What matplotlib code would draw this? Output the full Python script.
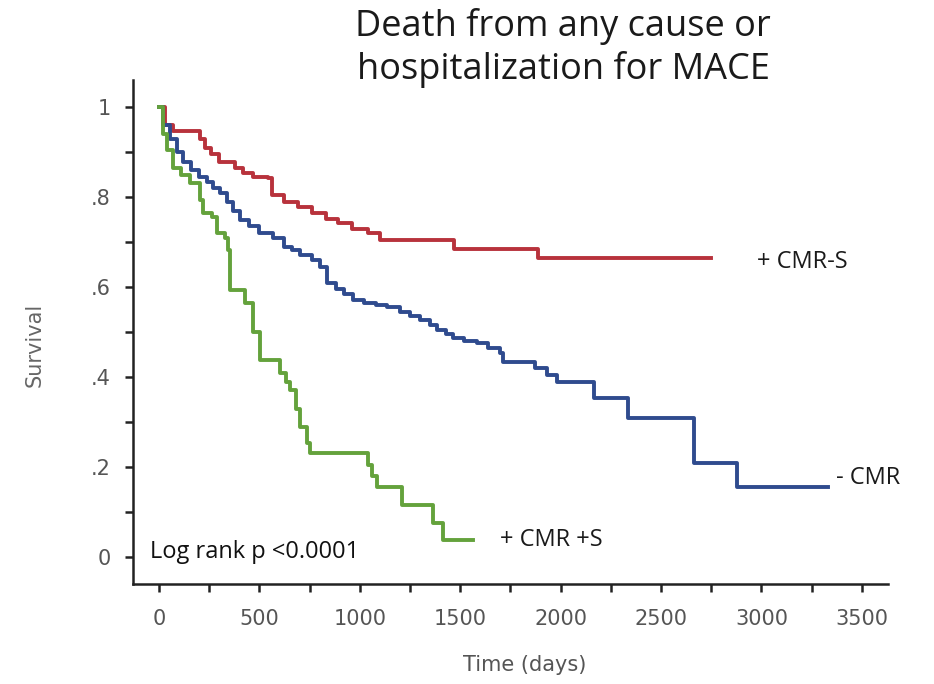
import matplotlib
matplotlib.use('Agg')
import matplotlib.pyplot as plt
from matplotlib.ticker import MultipleLocator, FixedLocator

# Kaplan-Meier steps (days, survival)
red_t = [0, 30, 70, 205, 230, 260, 300, 380, 420, 470, 540, 563, 620, 690, 760, 830, 890, 960, 1040, 1100, 1470, 1885, 2750]
red_s = [1.0, 0.96, 0.947, 0.93, 0.91, 0.895, 0.878, 0.865, 0.853, 0.845, 0.842, 0.805, 0.79, 0.778, 0.765, 0.752, 0.742, 0.73, 0.72, 0.704, 0.684, 0.664, 0.664]

blue_t = [0, 20, 55, 90, 120, 160, 200, 240, 270, 304, 340, 370, 403, 450, 500, 568, 620, 660, 702, 760,
          802, 836, 880, 920, 966, 1020, 1080, 1135, 1200, 1250, 1300, 1350, 1384, 1430, 1464, 1520, 1584,
          1640, 1698, 1713, 1870, 1932, 1982, 2165, 2333, 2664, 2878, 3332]
blue_s = [1.0, 0.96, 0.93, 0.9, 0.878, 0.86, 0.845, 0.833, 0.82, 0.809, 0.79, 0.77, 0.749, 0.735, 0.72, 0.709, 0.69, 0.682, 0.671, 0.66,
          0.645, 0.609, 0.595, 0.585, 0.571, 0.565, 0.56, 0.556, 0.545, 0.535, 0.527, 0.515, 0.504, 0.495, 0.487, 0.48, 0.476,
          0.465, 0.453, 0.433, 0.42, 0.405, 0.389, 0.353, 0.309, 0.209, 0.156, 0.156]

green_t = [0, 20, 40, 70, 110, 154, 204, 219, 264, 289, 329, 344, 354, 430, 470, 503, 603, 630, 652, 680,
           702, 737, 752, 1040, 1060, 1086, 1210, 1364, 1414, 1564]
green_s = [1.0, 0.94, 0.904, 0.864, 0.85, 0.831, 0.793, 0.764, 0.756, 0.72, 0.709, 0.682, 0.593, 0.564, 0.50, 0.438, 0.409, 0.39, 0.371, 0.33,
           0.289, 0.253, 0.231, 0.205, 0.18, 0.156, 0.115, 0.076, 0.038, 0.038]

xticks = [0, 500, 1000, 1500, 2000, 2500, 3000, 3500]
yticks = [0, 0.2, 0.4, 0.6, 0.8, 1.0]
ytick_labels = ['0', '.2', '.4', '.6', '.8', '1']

fig = plt.figure(figsize=(9.34, 6.84), dpi=100)
ax = fig.add_axes([0.1424, 0.1462, 0.8083, 0.7368])

ax.plot(red_t, red_s, drawstyle='steps-post', color='#b8323c', lw=2.8)
ax.plot(blue_t, blue_s, drawstyle='steps-post', color='#2f4b8e', lw=2.8)
ax.plot(green_t, green_s, drawstyle='steps-post', color='#64a23c', lw=2.8)

ax.set_xlim(-130, 3630)
ax.set_ylim(-0.06, 1.06)
ax.spines['top'].set_visible(False)
ax.spines['right'].set_visible(False)
for sp in ['left', 'bottom']:
    ax.spines[sp].set_linewidth(1.8)
    ax.spines[sp].set_color('#222222')

ax.set_xticks(xticks)
ax.set_xticklabels([str(v) for v in xticks])
ax.xaxis.set_minor_locator(MultipleLocator(250))
ax.set_yticks(yticks)
ax.set_yticklabels(ytick_labels)
ax.yaxis.set_minor_locator(FixedLocator([0.1, 0.3, 0.5, 0.7, 0.9]))
ax.tick_params(which='both', direction='out', length=6, width=1.8, color='#222222')
ax.tick_params(axis='x', which='major', pad=12, labelsize=15, labelcolor='#555555')
ax.tick_params(axis='y', which='major', pad=10, labelsize=15, labelcolor='#555555')

ax.text(2978, 0.656, '+ CMR-S', fontsize=17, family='Open Sans', va='center', color='#1a1a1a')
ax.text(3371, 0.176, '- CMR', fontsize=17, family='Open Sans', va='center', color='#1a1a1a')
ax.text(1698, 0.038, '+ CMR +S', fontsize=17, family='Open Sans', va='center', color='#1a1a1a')
ax.text(-45, 0.011, 'Log rank p <0.0001', fontsize=17, family='Open Sans', va='center', color='#111111')

fig.text(0.603, 0.988, 'Death from any cause or\nhospitalization for MACE', ha='center', va='top',
         fontsize=26, family='Open Sans', color='#1a1a1a', linespacing=1.2)
fig.text(35 / 934, 1 - 345 / 684, 'Survival', rotation=90, ha='center', va='center', fontsize=15,
         color='#666666')
fig.text(525 / 934, 1 - 665 / 684, 'Time (days)', ha='center', va='center', fontsize=15,
         color='#555555')

fig.savefig('out.png', dpi=100)
